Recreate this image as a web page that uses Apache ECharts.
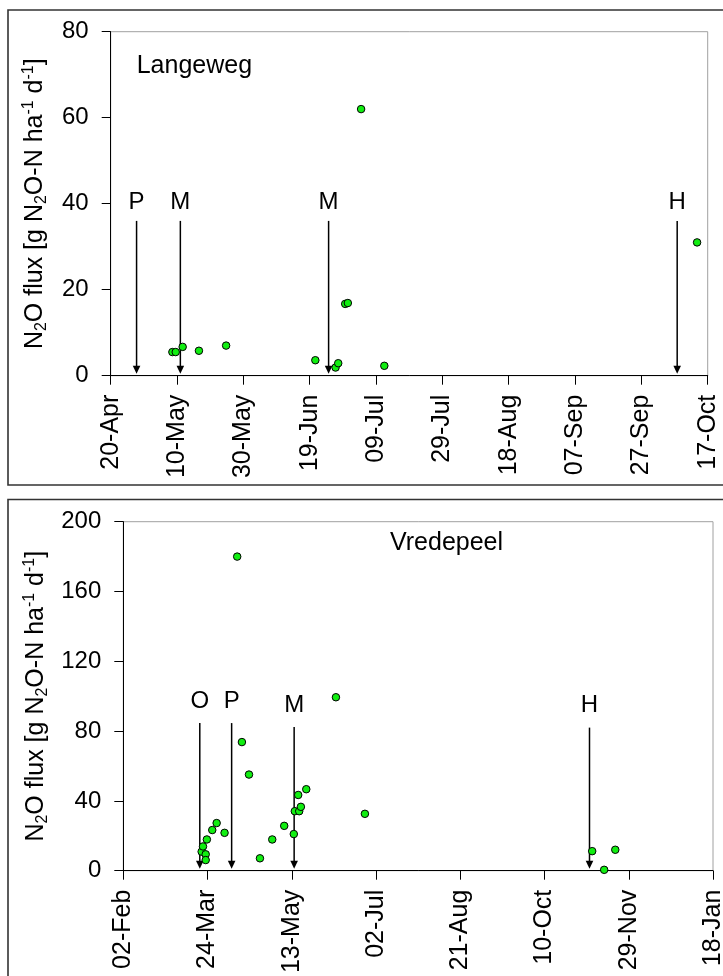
<!DOCTYPE html>
<html>
<head>
<meta charset="utf-8">
<style>
  html, body { margin: 0; padding: 0; background: #fff; }
  #chart { width: 723px; height: 976px; }
</style>
<script src="https://cdn.jsdelivr.net/npm/echarts@6.0.0/dist/echarts.min.js"></script>
</head>
<body>
<div id="chart"></div>
<script>
// ---------- Data (x = days since first axis tick) ----------
// Panel A: Langeweg (axis starts 20-Apr, 20-day ticks)
const tickLabelsA = ['20-Apr','10-May','30-May','19-Jun','09-Jul','29-Jul','18-Aug','07-Sep','27-Sep','17-Oct'];
const daysA = [18.6, 19.6, 21.7, 26.6, 34.8, 61.7, 67.8, 68.6, 70.7, 71.5, 75.5, 82.5, 176.8];
const fluxA = [5.5, 5.5, 6.7, 5.8, 7.0, 3.6, 1.9, 2.9, 16.7, 16.9, 62.0, 2.3, 31.0];
const eventLabelsA = ['P', 'M', 'M', 'H'];
const eventDaysA = [7.8, 21.0, 65.7, 170.8];
const eventTopA = [36, 36, 36, 36];

// Panel B: Vredepeel (axis starts 02-Feb, 50-day ticks)
const tickLabelsB = ['02-Feb','24-Mar','13-May','02-Jul','21-Aug','10-Oct','29-Nov','18-Jan'];
const daysB = [46.5, 47.3, 48.9, 48.9, 49.6, 52.8, 55.4, 60.1, 67.6, 70.4, 74.6, 81.1, 88.4,
               95.5, 101.2, 101.8, 104.4, 105.4, 103.8, 108.6, 126.2, 143.4, 278.3, 285.4, 292.0];
const fluxB = [10.9, 13.9, 9.4, 6.1, 17.9, 23.3, 27.3, 21.7, 180.0, 73.7, 55.1, 7.1, 17.9,
               25.7, 21.0, 34.1, 34.1, 36.6, 43.4, 46.7, 99.4, 32.6, 11.2, 0.5, 12.0];
const eventLabelsB = ['O', 'P', 'M', 'H'];
const eventDaysB = [45.4, 64.3, 101.4, 276.7];
const eventTopB = [84.6, 84.6, 82.3, 82.0];

// ---------- Chart ----------
const FONT = "'Liberation Sans', Arial, Helvetica, sans-serif";
const chart = echarts.init(document.getElementById('chart'), null, { renderer: 'canvas' });

const yName = '{n|N}{s|2}{n|O flux [g N}{s|2}{n|O-N ha}{p|-1}{n| d}{p|-1}{n|]}';
const yNameRich = {
  n: { fontSize: 25, fontFamily: FONT, color: '#000', lineHeight: 29 },
  s: { fontSize: 16, fontFamily: FONT, color: '#000', lineHeight: 16, verticalAlign: 'bottom' },
  p: { fontSize: 16, fontFamily: FONT, color: '#000', lineHeight: 16, verticalAlign: 'top' }
};

function xAxisCfg(grid, max, interval, labels) {
  return {
    gridIndex: grid, type: 'value', min: 0, max: max, interval: interval,
    axisLine: { show: true, onZero: false, lineStyle: { color: '#000', width: 1 } },
    axisTick: { show: true, length: 9, lineStyle: { color: '#000', width: 1 } },
    axisLabel: {
      show: true, rotate: 90, fontSize: 25, fontFamily: FONT, color: '#000', margin: 19,
      showMinLabel: true, showMaxLabel: true, hideOverlap: false,
      formatter: v => labels[Math.round(v / interval)] || ''
    },
    splitLine: { show: false }
  };
}
function yAxisCfg(grid, max, interval, gap) {
  return {
    gridIndex: grid, type: 'value', min: 0, max: max, interval: interval,
    axisLine: { show: true, onZero: false, lineStyle: { color: '#000', width: 1 } },
    axisTick: { show: true, length: 9, lineStyle: { color: '#000', width: 1 } },
    axisLabel: { show: true, fontSize: 24, fontFamily: FONT, color: '#000', margin: 22,
      showMinLabel: true, showMaxLabel: true },
    splitLine: { show: false },
    name: yName, nameLocation: 'middle', nameRotate: 90, nameGap: gap,
    nameTextStyle: { fontSize: 25, fontFamily: FONT, color: '#000', rich: yNameRich }
  };
}

function arrowRenderer(labels, labelOffset) {
  return function (params, api) {
    const d = api.value(0), t = api.value(1);
    const p0 = api.coord([d, t]);
    const p1 = api.coord([d, 0]);
    const x = p0[0];
    const tipY = p1[1] - 2;
    const headH = 8, headW = 3.8;
    return {
      type: 'group',
      children: [
        { type: 'line', shape: { x1: x, y1: p0[1], x2: x, y2: tipY - headH + 1 },
          style: { stroke: '#000', lineWidth: 1.5 } },
        { type: 'polygon', shape: { points: [[x - headW, tipY - headH], [x + headW, tipY - headH], [x, tipY]] },
          style: { fill: '#000' } },
        { type: 'text', x: x, y: p0[1] - labelOffset,
          style: { text: labels[params.dataIndex], fontSize: 24, fontFamily: FONT, fill: '#000',
                   align: 'center', verticalAlign: 'middle' } }
      ]
    };
  };
}

const pointsA = daysA.map((d, i) => [d, fluxA[i]]);
const pointsB = daysB.map((d, i) => [d, fluxB[i]]);
const eventsA = eventDaysA.map((d, i) => [d, eventTopA[i]]);
const eventsB = eventDaysB.map((d, i) => [d, eventTopB[i]]);

const pointStyle = { color: '#11ee11', borderColor: '#000', borderWidth: 1, opacity: 1 };

const option = {
  backgroundColor: '#fff',
  animation: false,
  grid: [
    { left: 110.7, top: 31.7, width: 597, height: 344, show: true, borderColor: '#a0a0a0', borderWidth: 1,
      backgroundColor: 'transparent', outerBoundsMode: 'none', containLabel: false },
    { left: 123.3, top: 521.7, width: 589.7, height: 349, show: true, borderColor: '#a0a0a0', borderWidth: 1,
      backgroundColor: 'transparent', outerBoundsMode: 'none', containLabel: false }
  ],
  xAxis: [ xAxisCfg(0, 180, 20, tickLabelsA), xAxisCfg(1, 350, 50, tickLabelsB) ],
  yAxis: [ yAxisCfg(0, 80, 20, 61), yAxisCfg(1, 200, 40, 73) ],
  graphic: [
    { type: 'rect', shape: { x: 8, y: 10, width: 740, height: 475 },
      style: { fill: 'none', stroke: '#333', lineWidth: 1.6 }, z: 100 },
    { type: 'rect', shape: { x: 8, y: 499.5, width: 740, height: 520 },
      style: { fill: 'none', stroke: '#333', lineWidth: 1.6 }, z: 100 },
    { type: 'text', x: 136.7, y: 66.5, style: { text: 'Langeweg', fontSize: 25, fontFamily: FONT, fill: '#000',
      align: 'left', verticalAlign: 'middle' }, z: 100 },
    { type: 'text', x: 390, y: 543, style: { text: 'Vredepeel', fontSize: 25, fontFamily: FONT, fill: '#000',
      align: 'left', verticalAlign: 'middle' }, z: 100 }
  ],
  series: [
    { type: 'custom', xAxisIndex: 0, yAxisIndex: 0, data: eventsA,
      renderItem: arrowRenderer(eventLabelsA, 19), z: 3, silent: true },
    { type: 'custom', xAxisIndex: 1, yAxisIndex: 1, data: eventsB,
      renderItem: arrowRenderer(eventLabelsB, 22), z: 3, silent: true },
    { type: 'scatter', xAxisIndex: 0, yAxisIndex: 0, data: pointsA, symbol: 'circle', symbolSize: 7.5,
      itemStyle: pointStyle, z: 5, silent: true },
    { type: 'scatter', xAxisIndex: 1, yAxisIndex: 1, data: pointsB, symbol: 'circle', symbolSize: 7.5,
      itemStyle: pointStyle, z: 5, silent: true }
  ]
};
chart.setOption(option);
</script>
</body>
</html>
